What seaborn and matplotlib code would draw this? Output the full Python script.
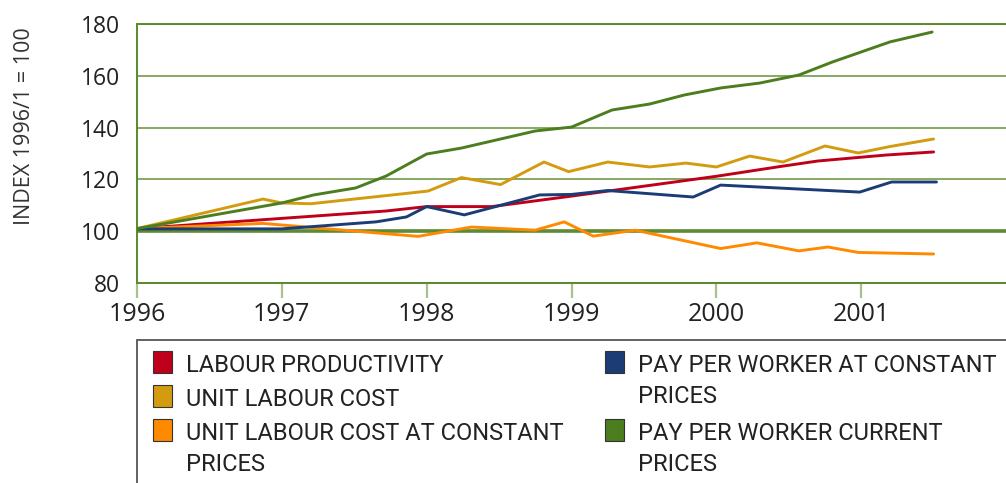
import pandas as pd
import seaborn as sns
import matplotlib.pyplot as plt
from matplotlib.patches import Rectangle

# values (x = fractional year, index 1996/1 = 100)
prod_x = [1996.0, 1997.72, 1998.0, 1998.45, 1998.98, 2000.0, 2000.42, 2000.70, 2001.17, 2001.5]
prod_y = [101.0, 107.8, 109.5, 109.5, 113.4, 121.2, 124.8, 127.1, 129.4, 130.6]

ulc_x = [1996.0, 1996.87, 1997.0, 1997.2, 1998.01, 1998.24, 1998.51, 1998.81, 1998.98,
         1999.25, 1999.54, 1999.79, 2000.0, 2000.23, 2000.46, 2000.75, 2000.98, 2001.2, 2001.5]
ulc_y = [101.0, 112.4, 110.9, 110.6, 115.5, 120.7, 118.0, 126.7, 123.0,
         126.7, 124.8, 126.3, 124.8, 129.0, 126.7, 132.9, 130.2, 132.7, 135.6]

ulc_const_x = [1996.0, 1996.87, 1997.94, 1998.31, 1998.75, 1998.95, 1999.15, 1999.44,
               2000.03, 2000.28, 2000.57, 2000.77, 2000.98, 2001.5]
ulc_const_y = [101.0, 103.0, 98.0, 101.6, 100.4, 103.6, 98.1, 100.4,
               93.3, 95.5, 92.4, 93.9, 91.8, 91.2]

pay_const_x = [1996.0, 1997.0, 1997.65, 1997.86, 1998.0, 1998.26, 1998.78, 1999.0,
               1999.25, 1999.84, 2000.03, 2000.99, 2001.21, 2001.52]
pay_const_y = [100.9, 100.9, 103.6, 105.5, 109.5, 106.3, 114.0, 114.2,
               115.7, 113.2, 117.8, 115.1, 119.0, 119.0]

pay_curr_x = [1996.0, 1997.0, 1997.22, 1997.51, 1997.72, 1998.0, 1998.24, 1998.75, 1999.0,
              1999.28, 1999.54, 1999.78, 2000.03, 2000.30, 2000.57, 2000.80, 2001.20, 2001.49]
pay_curr_y = [101.0, 110.9, 114.0, 116.7, 121.3, 129.8, 132.1, 138.7, 140.2,
              146.8, 149.1, 152.6, 155.3, 157.2, 160.3, 165.3, 173.1, 176.9]

labels = ['LABOUR PRODUCTIVITY', 'UNIT LABOUR COST', 'UNIT LABOUR COST AT CONSTANT\nPRICES',
          'PAY PER WORKER AT CONSTANT\nPRICES', 'PAY PER WORKER CURRENT\nPRICES']
colors = ['#c0001a', '#d39b0f', '#ff8a00', '#1b3c75', '#4c7d1f']
years = [1996, 1997, 1998, 1999, 2000, 2001]

series_data = [(prod_x, prod_y), (ulc_x, ulc_y), (ulc_const_x, ulc_const_y),
               (pay_const_x, pay_const_y), (pay_curr_x, pay_curr_y)]
frames = []
for lab, (xs, ys) in zip(labels, series_data):
    frames.append(pd.DataFrame({'year': xs, 'index': ys, 'series': lab}))
df = pd.concat(frames, ignore_index=True)

sns.set_theme(style='white')
plt.rcParams['font.family'] = ['Open Sans', 'DejaVu Sans']

W, H = 1006, 483
fig = plt.figure(figsize=(W / 100, H / 100), dpi=100)
ax = fig.add_axes([137 / W, 1 - 283 / H, 869 / W, 259 / H])

grid_col = '#7ea356'
ax.axhline(100, color='#5d8a33', lw=2.6, zorder=1)
sns.lineplot(data=df, x='year', y='index', hue='series', hue_order=labels,
             palette=dict(zip(labels, colors)), estimator=None, sort=True,
             lw=2.1, legend=False, ax=ax, zorder=3)

ax.set_xlim(1996, 2002)
ax.set_ylim(80, 180)
ax.set_yticks([80, 100, 120, 140, 160, 180])
ax.set_xticks(years)
ax.yaxis.grid(True, color=grid_col, lw=1.3)
ax.set_axisbelow(True)
ax.set_xlabel('')
ax.set_ylabel('INDEX 1996/1 = 100', fontsize=15.5, color='#333333')
ax.yaxis.set_label_coords(-0.117, 0.605)

for side in ['left', 'bottom', 'top']:
    ax.spines[side].set_color('#5a8a2a')
    ax.spines[side].set_linewidth(1.4)
ax.spines['right'].set_visible(False)

ax.tick_params(axis='x', direction='out', length=11, width=1.6, color='#a8c28c',
               pad=3, labelsize=18, labelcolor='#222222', bottom=True)
ax.tick_params(axis='y', length=0, pad=12, labelsize=16.5, labelcolor='#222222')

# legend drawn as a boxed key below the plot
fig.add_artist(Rectangle((137 / W, -0.05), 1, 1 - 340 / H + 0.05, transform=fig.transFigure,
                         fill=False, edgecolor='#555555', lw=1.3, clip_on=False))
key_font = ['Liberation Sans Narrow', 'Roboto', 'DejaVu Sans']
positions = [(153, 362), (153, 396), (153, 430), (605, 362), (605, 430)]
for lab, col, (px, py) in zip(labels, colors, positions):
    fig.add_artist(Rectangle((px / W, 1 - (py + 11) / H), 19 / W, 22 / H,
                             transform=fig.transFigure, facecolor=col,
                             edgecolor='#333333', lw=0.8))
    fig.text((px + 33) / W, 1 - (py - 8) / H, lab, ha='left', va='top',
             fontsize=17, family=key_font, color='#222222', linespacing=1.45)

fig.savefig('out.png', dpi=100)
